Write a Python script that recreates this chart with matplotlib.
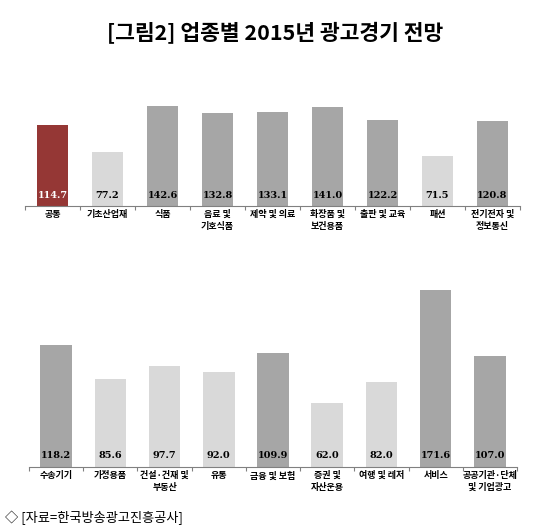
import matplotlib.pyplot as plt

plt.rcParams['font.family'] = ['Noto Sans CJK KR', 'DejaVu Sans']

# top panel
cats1 = ['공통', '기초산업재', '식품', '음료 및\n기호식품', '제약 및 의료',
         '화장품 및\n보건용품', '출판 및 교육', '패션', '전기전자 및\n정보통신']
vals1 = [114.7, 77.2, 142.6, 132.8, 133.1, 141.0, 122.2, 71.5, 120.8]

# bottom panel
cats2 = ['수송기기', '가정용품', '건설·건재 및\n부동산', '유통', '금융 및 보험',
         '증권 및\n자산운용', '여행 및 레저', '서비스', '공공기관·단체\n및 기업광고']
vals2 = [118.2, 85.6, 97.7, 92.0, 109.9, 62.0, 82.0, 171.6, 107.0]

RED = '#953735'
DARK = '#a6a6a6'
LIGHT = '#d9d9d9'

W, H = 550, 531
fig = plt.figure(figsize=(W / 100, H / 100), dpi=100)


def panel(rect, cats, vals, ymax, first_red):
    ax = fig.add_axes(rect)
    x = list(range(len(cats)))
    colors = []
    for i, v in enumerate(vals):
        if first_red and i == 0:
            colors.append(RED)
        elif v < 100:
            colors.append(LIGHT)
        else:
            colors.append(DARK)
    ax.bar(x, vals, width=0.58, color=colors)
    ax.set_xlim(-0.5, len(cats) - 0.5)
    ax.set_ylim(0, ymax)
    for i, v in enumerate(vals):
        ax.text(i, 11 * ymax / (rect[3] * H), f'{v:.1f}', ha='center', va='center',
                fontsize=7, fontweight='bold', family='DejaVu Serif',
                color='white' if (first_red and i == 0) else 'black')
    for s in ['top', 'right', 'left']:
        ax.spines[s].set_visible(False)
    ax.spines['bottom'].set_color('#808080')
    ax.set_yticks([])
    ax.set_xticks([i - 0.5 for i in range(len(cats) + 1)])
    ax.set_xticklabels([])
    ax.tick_params(axis='x', length=3, color='#808080')
    for i, c in enumerate(cats):
        ax.annotate(c, xy=(i, 0), xycoords=('data', 'axes fraction'),
                    xytext=(0, -3), textcoords='offset points',
                    ha='center', va='top', fontsize=6.5, fontweight='bold',
                    linespacing=1.4)
    return ax


# top: baseline y=206 px, top y=90 px
panel([25 / W, 1 - 206 / H, 495 / W, 116 / H], cats1, vals1, 165, True)
# bottom: baseline y=467 px, top y=280 px
panel([29 / W, 1 - 467 / H, 488 / W, 187 / H], cats2, vals2, 181, False)

fig.text(0.5, 1 - 33 / H, '[그림2] 업종별 2015년 광고경기 전망', ha='center', va='center',
         fontsize=15.5, fontweight='bold')
fig.text(5 / W, 1 - 518 / H, '◇ [자료=한국방송광고진흥공사]', ha='left', va='center',
         fontsize=9.5, family=['Noto Sans CJK KR', 'DejaVu Sans'])

fig.savefig('out.png', dpi=100, facecolor='white')
